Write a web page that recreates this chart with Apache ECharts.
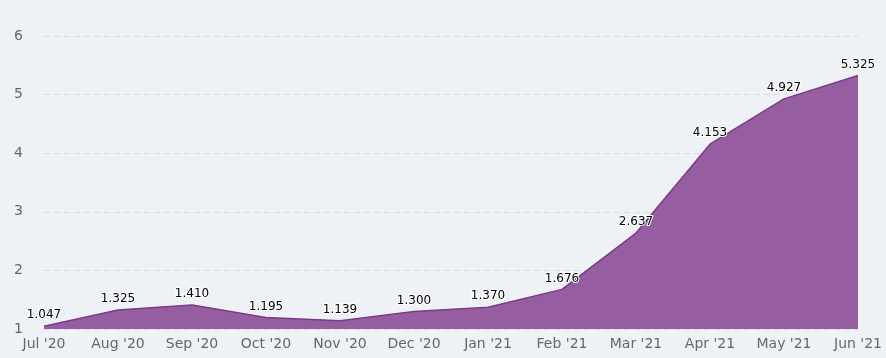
<!DOCTYPE html>
<html><head><meta charset="utf-8">
<script src="https://cdn.jsdelivr.net/npm/echarts@6/dist/echarts.min.js"></script>
<style>html,body{margin:0;padding:0;background:#eef2f7;}#c{width:886px;height:358px;}</style>
</head><body><div id="c"></div>
<script>
const categories = ["Jul '20","Aug '20","Sep '20","Oct '20","Nov '20","Dec '20","Jan '21","Feb '21","Mar '21","Apr '21","May '21","Jun '21"];
const values = [1.047,1.325,1.410,1.195,1.139,1.300,1.370,1.676,2.637,4.153,4.927,5.325];
const yTicks = [1,2,3,4,5,6];

const chart = echarts.init(document.getElementById('c'));
chart.setOption({
  backgroundColor: '#eef2f7',
  animation: false,
  grid: {left: 44, right: 28, top: 36, bottom: 29},
  xAxis: {
    type: 'category', data: categories, boundaryGap: false,
    axisLine: {show: false}, axisTick: {show: false},
    axisLabel: {color: '#666', fontFamily: "'DejaVu Sans'", fontSize: 14, margin: 8, interval: 0}
  },
  yAxis: {
    type: 'value', min: yTicks[0], max: yTicks[yTicks.length-1], interval: 1,
    axisLine: {show: false}, axisTick: {show: false},
    axisLabel: {color: '#666', fontFamily: "'DejaVu Sans'", fontSize: 14, margin: 21},
    splitLine: {lineStyle: {color: '#d8dce2', type: [6, 4], width: 1}}
  },
  series: [{
    type: 'line', data: values, symbol: 'circle', symbolSize: 2, showSymbol: true,
    itemStyle: {color: 'rgba(0,0,0,0)', borderWidth: 0},
    lineStyle: {color: '#7a3a88', width: 1.5},
    areaStyle: {color: '#965ea0', opacity: 1},
    label: {show: true, position: 'top', distance: 4, color: '#000', fontFamily: "'DejaVu Sans'", fontSize: 12,
      textBorderColor: '#fff', textBorderWidth: 2,
      formatter: p => Number(p.value).toFixed(3)}
  }]
});
</script></body></html>
